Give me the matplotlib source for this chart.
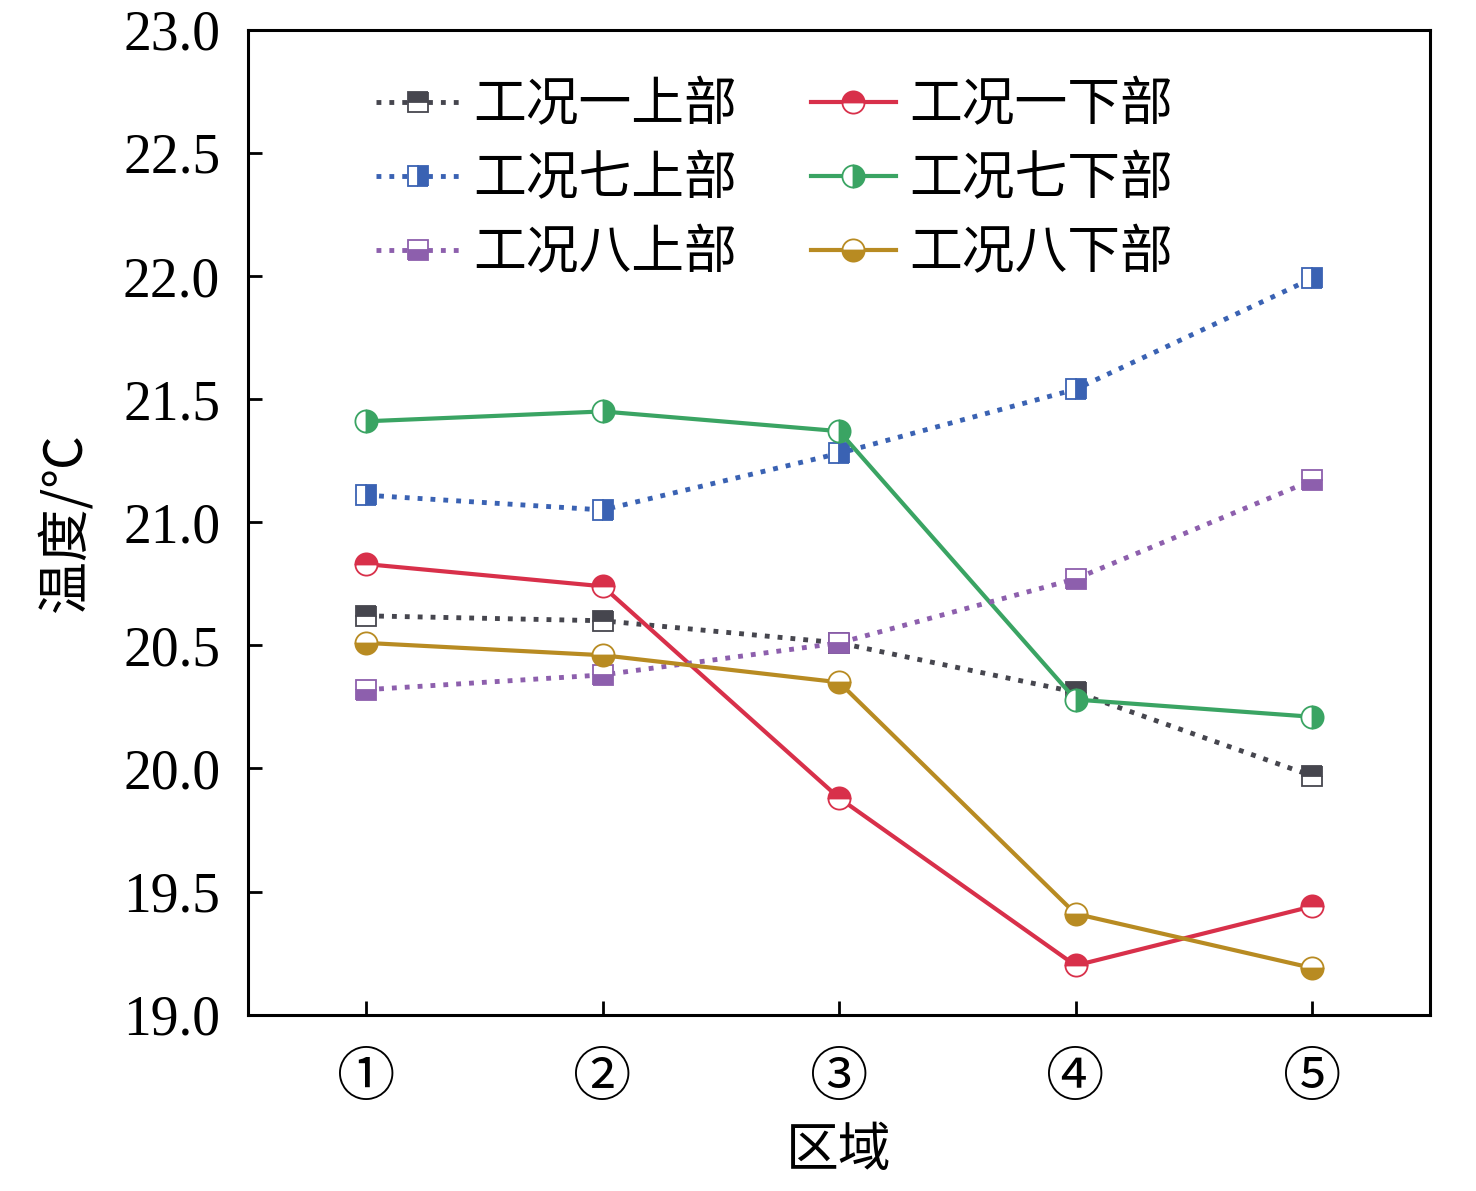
import matplotlib.pyplot as plt

plt.rcParams['font.family'] = ['Liberation Serif', 'Noto Sans CJK SC']

regions = ['①', '②', '③', '④', '⑤']
x = [1, 2, 3, 4, 5]

case1_upper = [20.62, 20.60, 20.51, 20.31, 19.97]
case1_lower = [20.83, 20.74, 19.88, 19.20, 19.44]
case7_upper = [21.11, 21.05, 21.28, 21.54, 21.99]
case7_lower = [21.41, 21.45, 21.37, 20.28, 20.21]
case8_upper = [20.32, 20.38, 20.51, 20.77, 21.17]
case8_lower = [20.51, 20.46, 20.35, 19.41, 19.19]

fig, ax = plt.subplots(figsize=(14.76, 11.91), dpi=100)
fig.subplots_adjust(left=0.168, right=0.969, top=0.975, bottom=0.148)

# (data, label, colour, marker, fillstyle, linestyle)
series = [
    (case1_upper, '工况一上部', '#46464e', 's', 'top', ':'),
    (case1_lower, '工况一下部', '#d8304a', 'o', 'top', '-'),
    (case7_upper, '工况七上部', '#3a62b3', 's', 'right', ':'),
    (case7_lower, '工况七下部', '#3aa463', 'o', 'right', '-'),
    (case8_upper, '工况八上部', '#8d5fad', 's', 'bottom', ':'),
    (case8_lower, '工况八下部', '#b88b22', 'o', 'bottom', '-'),
]

for data, label, color, marker, fs, ls in series:
    lw = 3.5 if ls == ':' else 3.0
    ms = 14 if marker == 's' else 16
    ax.plot(x, data, linestyle=ls, color=color, linewidth=lw, marker=marker,
            markersize=ms, fillstyle=fs, markerfacecoloralt='white',
            markeredgecolor=color, markeredgewidth=1.3, label=label)

ax.set_xlim(0.5, 5.5)
ax.set_ylim(19.0, 23.0)
ax.set_yticks([19.0, 19.5, 20.0, 20.5, 21.0, 21.5, 22.0, 22.5, 23.0])
ax.set_yticklabels([f'{v:.1f}' for v in ax.get_yticks()])
ax.set_xticks(x)
ax.set_xticklabels(regions, family=['Noto Sans CJK SC'])
ax.tick_params(direction='in', length=10, width=2)
ax.tick_params(axis='y', labelsize=40, pad=20)
ax.tick_params(axis='x', labelsize=42, pad=24)
for sp in ax.spines.values():
    sp.set_linewidth(2.2)

ax.set_xlabel('区域', fontsize=38, family=['Noto Sans CJK SC'], labelpad=10)
ax.set_ylabel('温度/℃', fontsize=38, family=['Noto Sans CJK SC', 'DejaVu Sans'], labelpad=22)

handles, labels = ax.get_legend_handles_labels()
order = [0, 2, 4, 1, 3, 5]
ax.legend([handles[i] for i in order], [labels[i] for i in order], ncol=2,
          loc='upper left', bbox_to_anchor=(0.068, 1.0), frameon=False,
          prop={'family': 'Noto Sans CJK SC', 'size': 38}, handlelength=1.6,
          columnspacing=1.4, labelspacing=0.36, handletextpad=0.25)

plt.savefig('out.png', dpi=100)
